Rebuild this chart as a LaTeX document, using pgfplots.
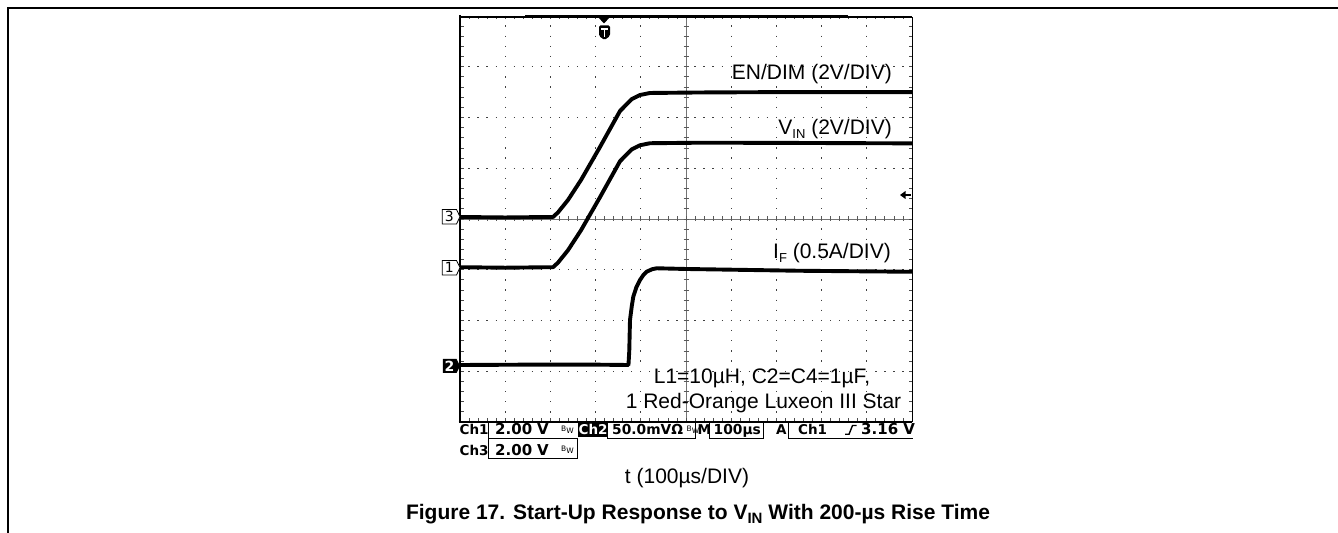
\documentclass[border=0pt]{standalone}
\usepackage{fontspec}
\setmainfont{Liberation Sans}
\newfontfamily\scopefont{DejaVu Sans}
\usepackage{pgfplots}
\pgfplotsset{compat=1.18}
\newcommand\lbl{\fontsize{21bp}{24bp}\selectfont}
\newcommand\ro{\scopefont\bfseries\fontsize{15bp}{15bp}\selectfont}
\newcommand\ros{\scopefont\bfseries\fontsize{13.8bp}{13.8bp}\selectfont}
\newcommand\roc{\scopefont\bfseries\fontsize{13.5bp}{13.5bp}\selectfont}
\newcommand\bw{\scopefont\fontsize{7.5bp}{7.5bp}\selectfont B\raisebox{-2bp}{W}}
\pgfplotstableread{
x y
0 0.04
1 0.03
2 0.04
2.058 0.04
2.168 0.130
2.389 0.374
2.677 0.768
3.097 1.419
3.540 2.128
3.805 2.365
3.982 2.443
4.204 2.483
5.31 2.493
7 2.50
10 2.50
}\endim
\pgfplotstableread{
x y
0 -0.95
1 -0.96
2 -0.95
2.058 -0.95
2.168 -0.860
2.389 -0.616
2.677 -0.222
3.097 0.429
3.540 1.138
3.805 1.375
3.982 1.453
4.204 1.493
5.31 1.503
7 1.50
10 1.49
}\vin
\pgfplotstableread{
x y
0 -2.877
1.5 -2.87
3.0 -2.87
3.727 -2.877
3.745 -2.6
3.761 -1.99
3.80 -1.72
3.834 -1.531
3.90 -1.35
3.982 -1.202
4.06 -1.10
4.131 -1.038
4.25 -0.99
4.352 -0.971
5.0 -0.985
7.5 -1.02
10 -1.04
}\iff
\begin{document}
\begin{tikzpicture}[x=1bp,y=1bp]
\begin{scope}[shift={(-460,422)}, yscale=-1]
\path[use as bounding box] (0,0) rectangle (1338,533);
% outer frame
\draw[line width=2bp] (8,533) -- (8,8) -- (1338,8);
% dotted grid
\foreach \k in {1,2,3,4,6,7,8,9}
  \draw[black!75, line width=1.3bp, dash pattern=on 1.3bp off 8.85bp, dash phase=0.65bp] ({460+45.2*\k},16) -- ({460+45.2*\k},422);
\foreach \k in {1,2,3,5,6,7}
  \draw[black!75, line width=1.3bp, dash pattern=on 1.3bp off 7.74bp, dash phase=0.65bp] (460,{16+50.75*\k}) -- (912,{16+50.75*\k});
% centre lines
\draw[black!55, line width=0.7bp] (460,219) -- (912,219) (686,16) -- (686,422);
\foreach \i in {1,...,49} \draw[black!65, line width=0.8bp] ({460+9.04*\i},216.5) -- ++(0,5);
\foreach \i in {1,...,39} \draw[black!65, line width=0.8bp] (683.5,{16+10.15*\i}) -- ++(5,0);
% edge ticks
\foreach \i in {1,...,49} \draw[black!70, line width=0.8bp] ({460+9.04*\i},16) -- ++(0,3.5) ({460+9.04*\i},422) -- ++(0,-3.5);
\foreach \i in {1,...,39} \draw[black!70, line width=0.8bp] (460,{16+10.15*\i}) -- ++(3.5,0) (912,{16+10.15*\i}) -- ++(-3.5,0);
\end{scope}

\begin{axis}[at={(0,0)}, anchor=south west, scale only axis, width=452bp, height=406bp,
  xmin=0, xmax=10, ymin=-4, ymax=4, hide axis, clip=false]
\addplot[black, line width=3.9bp, line join=round, no marks] table[x=x,y=y] {\endim};
\addplot[black, line width=3.9bp, line join=round, no marks] table[x=x,y=y] {\vin};
\addplot[black, line width=3.9bp, line join=round, no marks] table[x=x,y=y] {\iff};
\end{axis}

\begin{scope}[shift={(-460,422)}, yscale=-1]
% graticule frame
\draw[line width=1.2bp] (460,17) -- (912,17);
\draw[line width=3bp] (525,16.8) -- (848,16.8);
\draw[line width=0.9bp] (912,17) -- (912,422);
\draw[line width=2.6bp] (460,15.5) -- (460,423.3);
\draw[line width=2.6bp] (458.7,422) -- (912,422);
% trigger marks
\fill (598,17) -- (610,17) -- (604,23.5) -- cycle;
\fill[rounded corners=1.5bp] (599,25.5) -- (610,25.5) -- (610,36) -- (604.5,40) -- (599,36) -- cycle;
\draw[white, line width=1.8bp] (601.3,29) -- (607.7,29) (604.5,29) -- (604.5,37);
\draw[line width=1.5bp] (904,195) -- (911,195);
\fill (900,195) -- (905.5,191) -- (905.5,199) -- cycle;
% channel markers
\draw[line width=0.8bp, fill=white] (442.3,209.5) -- (456.5,209.5) -- (460,216.7) -- (456.5,224) -- (442.3,224) -- cycle;
\node[font=\scopefont\fontsize{14bp}{14bp}\selectfont, inner sep=0] at (449.3,216.9) {3};
\draw[line width=0.8bp, fill=white] (442.3,260.5) -- (456.5,260.5) -- (460,267.5) -- (456.5,275) -- (442.3,275) -- cycle;
\node[font=\scopefont\fontsize{14bp}{14bp}\selectfont, inner sep=0] at (449.3,267.9) {1};
\fill (442.8,359) -- (456.5,359) -- (460,366) -- (456.5,373) -- (442.8,373) -- cycle;
\node[white, font=\scopefont\bfseries\fontsize{14bp}{14bp}\selectfont, inner sep=0] at (449.6,366.3) {2};
% trace labels
\node[anchor=base east, inner sep=0, font=\lbl] at (892,80) {EN/DIM (2V/DIV)};
\node[anchor=base east, inner sep=0, font=\lbl] at (892,135) {V\raisebox{-3.5bp}{\fontsize{13bp}{13bp}\selectfont IN} (2V/DIV)};
\node[anchor=base east, inner sep=0, font=\lbl] at (891,259) {I\raisebox{-3.5bp}{\fontsize{13bp}{13bp}\selectfont F} (0.5A/DIV)};
\node[anchor=base, inner sep=0, font=\lbl] at (762,384) {L1=10µH, C2=C4=1µF,};
\node[anchor=base, inner sep=0, font=\lbl] at (763.5,408.3) {1 Red-Orange Luxeon III Star};
% readout boxes
\draw[line width=0.8bp] (488,422) -- (488,438.5) -- (577,438.5);
\draw[line width=0.8bp] (488,438.5) -- (488,458) -- (577,458) -- (577,438.5);
\draw[line width=0.8bp] (607,422) -- (607,438.5) -- (695,438.5) -- (695,422);
\draw[line width=0.8bp] (709,422) -- (709,438.5) -- (763,438.5) -- (763,422);
\draw[line width=0.8bp] (788,422) -- (788,438.5) -- (913,438.5);
\fill (577.5,422) rectangle (606.5,437.5);
\node[anchor=base west, inner sep=0, font=\roc] at (459.5,435) {Ch1};
\node[anchor=base west, inner sep=0, font=\ro] at (495,435) {2.00};
\node[anchor=base west, inner sep=0, font=\ro] at (537,435) {V};
\node[anchor=base west, inner sep=0] at (561,431.5) {\bw};
\node[anchor=base west, inner sep=0, font=\roc, white] at (578.5,435) {Ch2};
\node[anchor=base west, inner sep=0, font=\ros] at (612,435) {50.0mVΩ};
\node[anchor=base west, inner sep=0] at (686.5,431.5) {\bw};
\node[anchor=base west, inner sep=0, font=\roc] at (697.5,435) {M};
\node[anchor=base west, inner sep=0, font=\ros] at (713.5,435) {100µs};
\node[anchor=base west, inner sep=0, font=\roc] at (776,435) {A};
\node[anchor=base west, inner sep=0, font=\roc] at (798,435) {Ch1};
\draw[line width=1.4bp] (845,434.3) -- (849,434.3) -- (852.5,425.5) -- (856.5,425.5);
\node[anchor=base west, inner sep=0, font=\ro] at (861,435) {3.16 V};
\node[anchor=base west, inner sep=0, font=\roc] at (459.5,455.5) {Ch3};
\node[anchor=base west, inner sep=0, font=\ro] at (495,455.5) {2.00};
\node[anchor=base west, inner sep=0, font=\ro] at (537,455.5) {V};
\node[anchor=base west, inner sep=0] at (561,452) {\bw};
% axis title and caption
\node[anchor=base, inner sep=0, font=\lbl] at (687,484) {t (100µs/DIV)};
\node[anchor=base, inner sep=0, font=\lbl\bfseries] at (698,520) {Figure 17. Start-Up Response to V\raisebox{-4bp}{\fontsize{15bp}{15bp}\selectfont IN} With 200-µs Rise Time};
\end{scope}
\end{tikzpicture}
\end{document}
